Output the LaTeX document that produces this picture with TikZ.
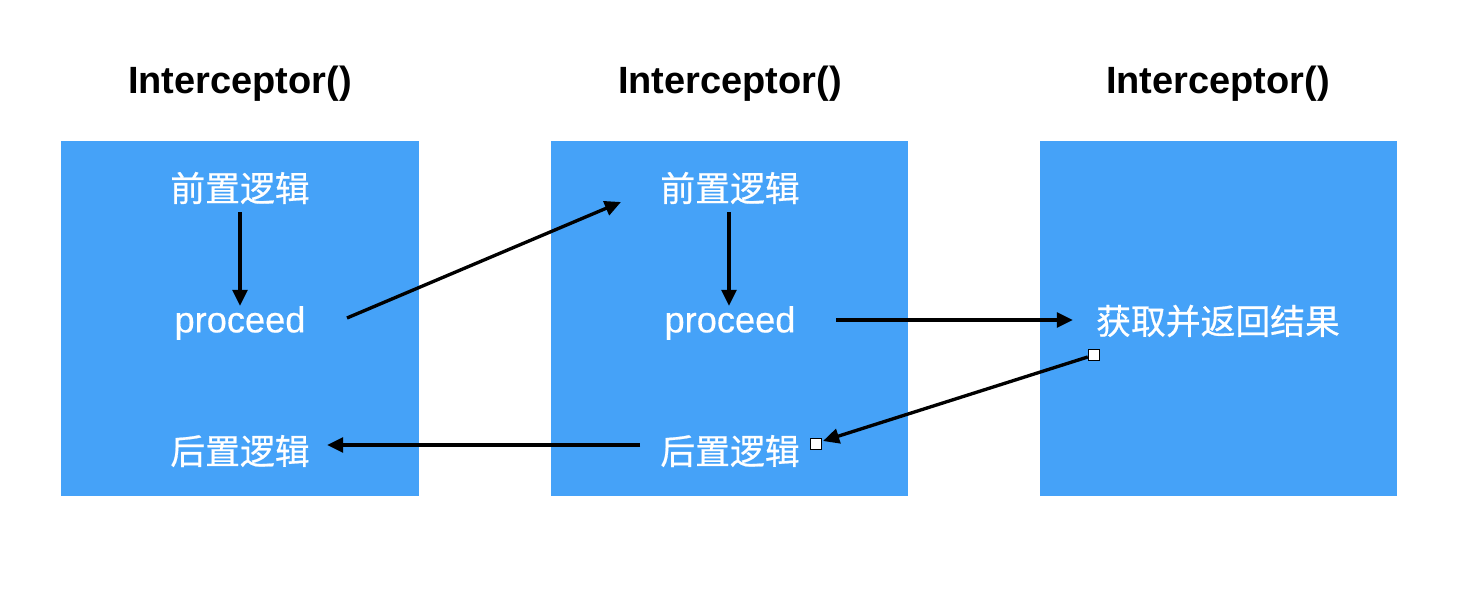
\documentclass[tikz,border=0pt]{standalone}
\usepackage{fontspec}
\setmainfont{Liberation Sans}
\newfontfamily\cjk{Noto Sans CJK SC}[FakeBold=0.6]
\newfontfamily\enfont{Liberation Sans}[FakeBold=0.5]
\usetikzlibrary{arrows.meta}
\definecolor{boxblue}{HTML}{45A2F8}
\begin{document}
\begin{tikzpicture}[x=0.01cm,y=-0.01cm,
  blk/.style={fill=boxblue,draw=none},
  title/.style={font=\fontsize{10.8}{13}\selectfont\bfseries,text=black,inner sep=0},
  cn/.style={font=\fontsize{9.9}{12}\selectfont\cjk,text=white,inner sep=0},
  en/.style={font=\fontsize{10.3}{12}\selectfont\enfont,text=white,inner sep=0},
  conn/.style={line width=0.95pt,-{Triangle[length=4.6pt,width=4.2pt]}},
  handle/.style={draw=black,fill=white,line width=0.4pt,minimum size=0.11cm,inner sep=0}]
\useasboundingbox (0,0) rectangle (1484,600);
\fill[white] (0,0) rectangle (1484,600);
% boxes
\path[blk] (61,141) rectangle (419,496);
\path[blk] (551,141) rectangle (908,496);
\path[blk] (1040,141) rectangle (1397,496);
% titles
\node[title] (t1) at (240,84) {Interceptor()};
\node[title] (t2) at (730,84) {Interceptor()};
\node[title] (t3) at (1218,84) {Interceptor()};
% texts
\node[cn] (pre1) at (240,188) {前置逻辑};
\node[en] (proc1) at (240,323) {proceed};
\node[cn] (post1) at (240,451) {后置逻辑};
\node[cn] (pre2) at (730,188) {前置逻辑};
\node[en] (proc2) at (730,323) {proceed};
\node[cn] (post2) at (730,451) {后置逻辑};
\node[cn] (res) at (1218,321) {获取并返回结果};
% handles
\node[handle] (h1) at (1094,355) {};
\node[handle] (h2) at (816,444) {};
% endpoint coordinates
\coordinate (a1s) at (240,212);
\coordinate (a1e) at (240,306);
\coordinate (a2s) at (729,212);
\coordinate (a2e) at (729,306);
\coordinate (b1s) at (347,318);
\coordinate (b1e) at (621,202);
\coordinate (c1s) at (836,320);
\coordinate (c1e) at (1073,320);
\coordinate (d1e) at (823,441);
\coordinate (e1s) at (640,445);
\coordinate (e1e) at (327,445);
% connectors
\draw[conn] (a1s) -- (a1e);
\draw[conn] (a2s) -- (a2e);
\draw[conn] (b1s) -- (b1e);
\draw[conn] (c1s) -- (c1e);
\draw[conn] (h1) -- (d1e);
\draw[conn] (e1s) -- (e1e);
\node[handle] at (h1) {};
\node[handle] at (h2) {};
\end{tikzpicture}
\end{document}
